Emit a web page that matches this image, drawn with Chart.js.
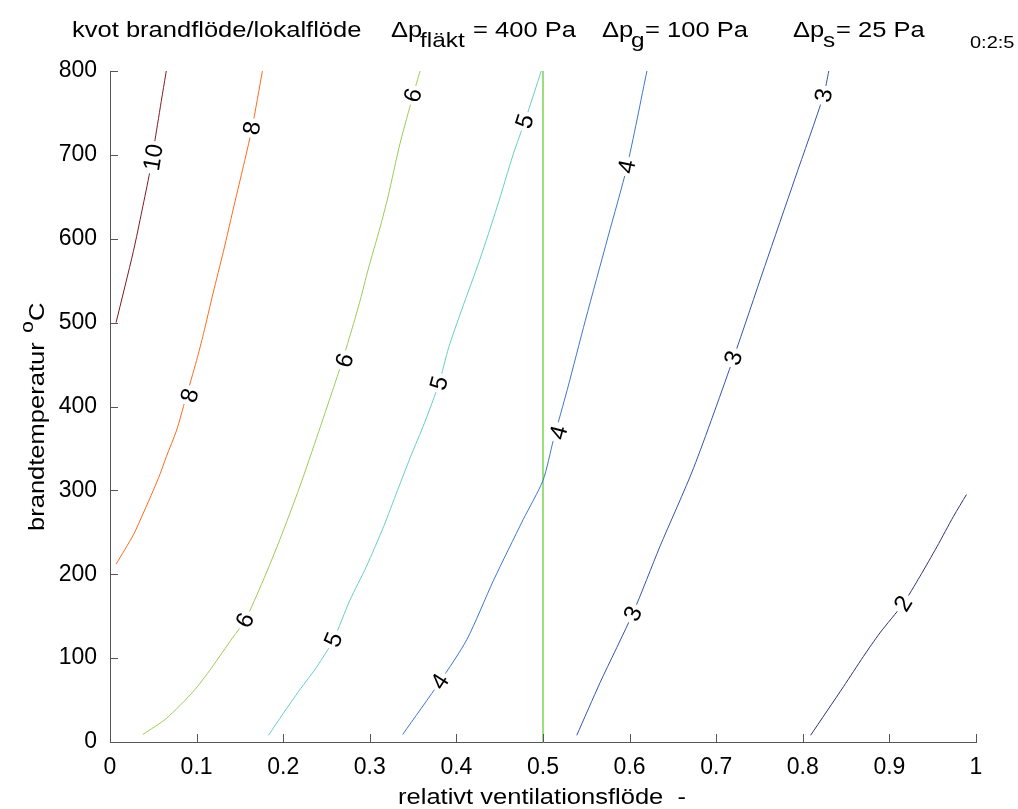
<!DOCTYPE html>
<html>
<head>
<meta charset="utf-8">
<script src="https://cdn.jsdelivr.net/npm/chart.js@4.4.1/dist/chart.umd.min.js"></script>
<style>
html,body{margin:0;padding:0;background:#fff;}
#wrap{width:1018px;height:809px;position:relative;}
</style>
</head>
<body>
<div id="wrap"><canvas id="c"></canvas></div>
<script>
// ---- data ----
const xTicks = [0,0.1,0.2,0.3,0.4,0.5,0.6,0.7,0.8,0.9,1];
const yTicks = [0,100,200,300,400,500,600,700,800];

const c10x = [0.007,0.027,0.037,0.046,0.052,0.060,0.065];
const c10y = [500,585,634,680,718,769,800];

const c8x = [0.007,0.027,0.0385,0.050,0.058,0.065,0.077,0.087,0.100,0.108,0.119,0.131,0.142,0.153,0.164,0.176];
const c8y = [212,247,273,300,320,340,372,408,455,487,535,585,634,682,732,800];

const c6x = [0.038,0.065,0.096,0.117,0.142,0.156,0.177,0.196,0.219,0.241,0.256,0.266,0.279,0.289,0.298,0.312,0.321,0.335,0.350,0.358];
const c6y = [9,28,60,88,125,145,193,241,304,370,416,447,491,527,563,614,650,714,771,800];

const c5x = [0.183,0.200,0.219,0.239,0.258,0.277,0.296,0.316,0.332,0.347,0.363,0.380,0.391,0.406,0.427,0.447,0.466,0.479,0.498];
const c5y = [8,34,62,90,122,169,209,257,300,340,380,428,470,515,575,638,702,740,800];

const c4x = [0.338,0.381,0.412,0.443,0.477,0.500,0.512,0.528,0.549,0.575,0.597,0.620];
const c4y = [9,72,122,193,265,312,360,420,503,602,686,800];

const c3x = [0.539,0.566,0.604,0.635,0.674,0.720,0.756,0.791,0.824,0.830];
const c3y = [8,71,154,233,327,458,567,672,771,800];

const c2x = [0.809,0.847,0.870,0.889,0.916,0.935,0.955,0.974,0.989];
const c2y = [8,66,102,130,165,197,233,269,295];

const refLineX = [0.5,0.5];
const refLineY = [0,800];

const levels = [10,8,6,5,4,3,2];
const levelColors = ['#801a1a','#ff6a1a','#99cc55','#66cccc','#3a78cc','#3355aa','#30307f'];

const labelLevel = [10,8,8,6,6,6,5,5,5,4,4,4,3,3,3,2];
const labelX = [0.050,0.164,0.092,0.350,0.271,0.156,0.479,0.380,0.258,0.597,0.518,0.381,0.824,0.720,0.604,0.916];
const labelY = [697,732,413,771,455,145,740,428,122,686,369,72,771,458,153,165];

// ---- build datasets ----
const series = {10:[c10x,c10y],8:[c8x,c8y],6:[c6x,c6y],5:[c5x,c5y],4:[c4x,c4y],3:[c3x,c3y],2:[c2x,c2y]};
function pts(xs,ys){return xs.map((x,i)=>({x:x,y:ys[i]}));}
const datasets = levels.map((lv,i)=>({
  label:String(lv),
  data:pts(series[lv][0],series[lv][1]),
  borderColor:levelColors[i],
  borderWidth:1,
  pointRadius:0,
  showLine:true,
  tension:0.25
}));
datasets.push({label:'ref',data:pts(refLineX,refLineY),borderColor:'#66cc33',borderWidth:1.3,pointRadius:0,showLine:true});

const FONT = "'Liberation Sans', Arial, sans-serif";
const SX = 1.16;
function txt(ctx,s,x,y,size,align,sx){
  ctx.save();
  ctx.translate(x,y);
  ctx.scale(sx||1,1);
  ctx.font = size+'px '+FONT;
  ctx.textAlign = align||'left';
  ctx.textBaseline = 'alphabetic';
  ctx.fillStyle = '#000';
  ctx.fillText(s,0,0);
  ctx.restore();
}

const decor = {
  id:'decor',
  afterDatasetsDraw(chart){
    const ctx = chart.ctx, xs = chart.scales.x, ys = chart.scales.y;
    labelLevel.forEach((lv,i)=>{
      const d = series[lv];
      const px = xs.getPixelForValue(labelX[i]);
      const py = ys.getPixelForValue(labelY[i]);
      let k = 0;
      for(let j=0;j<d[1].length-1;j++){ if(d[1][j]<=labelY[i]) k=j; }
      const x0 = xs.getPixelForValue(d[0][k]), y0 = ys.getPixelForValue(d[1][k]);
      const x1 = xs.getPixelForValue(d[0][k+1]), y1 = ys.getPixelForValue(d[1][k+1]);
      const ang = Math.atan2(y1-y0, x1-x0);
      ctx.save();
      ctx.translate(px,py);
      ctx.rotate(ang);
      ctx.font = '24px '+FONT;
      const w = ctx.measureText(String(lv)).width;
      ctx.fillStyle = '#fff';
      ctx.fillRect(-w/2-3,-10,w+6,20);
      ctx.fillStyle = '#000';
      ctx.textAlign='center';
      ctx.textBaseline='middle';
      ctx.fillText(String(lv),0,1);
      ctx.restore();
    });
  },
  afterDraw(chart){
    const ctx = chart.ctx, xs = chart.scales.x, ys = chart.scales.y;
    const a = chart.chartArea;
    ctx.save();
    ctx.strokeStyle = '#555';
    ctx.lineWidth = 1;
    ctx.beginPath();
    xTicks.forEach(v=>{const p=Math.round(xs.getPixelForValue(v))+0.5; ctx.moveTo(p,a.bottom); ctx.lineTo(p,a.bottom-8);});
    yTicks.forEach(v=>{const p=Math.round(ys.getPixelForValue(v))+0.5; ctx.moveTo(a.left,p); ctx.lineTo(a.left+8,p);});
    ctx.stroke();
    ctx.restore();
    // titles
    txt(ctx,'kvot brandflöde/lokalflöde',72,37,22,'left',SX);
    txt(ctx,'Δp',391,37,22,'left',SX);
    txt(ctx,'fläkt',420,47,21,'left',SX);
    txt(ctx,'= 400 Pa',473,37,22,'left',SX);
    txt(ctx,'Δp',602,37,22,'left',SX);
    txt(ctx,'g',631,47,21,'left',SX);
    txt(ctx,'= 100 Pa',645,37,22,'left',SX);
    txt(ctx,'Δp',793,37,22,'left',SX);
    txt(ctx,'s',823,47,21,'left',SX);
    txt(ctx,'= 25 Pa',836,37,22,'left',SX);
    txt(ctx,'0:2:5',970,48,16,'left',1.25);
    // x axis title
    txt(ctx,'relativt ventilationsflöde  -',542,804,22,'center',SX);
    // y axis title (rotated)
    ctx.save();
    ctx.translate(44,531);
    ctx.rotate(-Math.PI/2);
    ctx.scale(SX,1);
    ctx.font = '22px '+FONT;
    ctx.fillStyle='#000';
    ctx.textBaseline='alphabetic';
    ctx.textAlign='left';
    ctx.fillText('brandtemperatur',0,0);
    ctx.font = '18px '+FONT;
    ctx.fillText('o',171,-11);
    ctx.font = '22px '+FONT;
    ctx.fillText('C',181,0);
    ctx.restore();
  }
};

new Chart(document.getElementById('c'),{
  type:'scatter',
  data:{datasets:datasets},
  options:{
    responsive:true,
    maintainAspectRatio:false,
    animation:false,
    layout:{padding:{top:71,right:42,left:0,bottom:0}},
    plugins:{legend:{display:false},tooltip:{enabled:false},title:{display:false}},
    scales:{
      x:{
        type:'linear',min:0,max:1,
        afterFit(s){s.height=67;},
        afterBuildTicks(s){s.ticks = xTicks.map(v=>({value:v}));},
        grid:{display:true,drawOnChartArea:false,drawTicks:false},
        border:{display:true,color:'#555',width:1},
        ticks:{padding:12,color:'#000',font:{family:FONT,size:23},maxRotation:0,autoSkip:false,
          callback:v=>String(Math.round(v*10)/10)}
      },
      y:{
        type:'linear',min:0,max:800,
        afterFit(s){s.width=110;},
        afterBuildTicks(s){s.ticks = yTicks.map(v=>({value:v}));},
        grid:{display:true,drawOnChartArea:false,drawTicks:false},
        border:{display:true,color:'#555',width:1},
        ticks:{padding:13,color:'#000',font:{family:FONT,size:23},autoSkip:false,
          callback:v=>String(v)}
      }
    }
  },
  plugins:[decor]
});
</script>
</body>
</html>
